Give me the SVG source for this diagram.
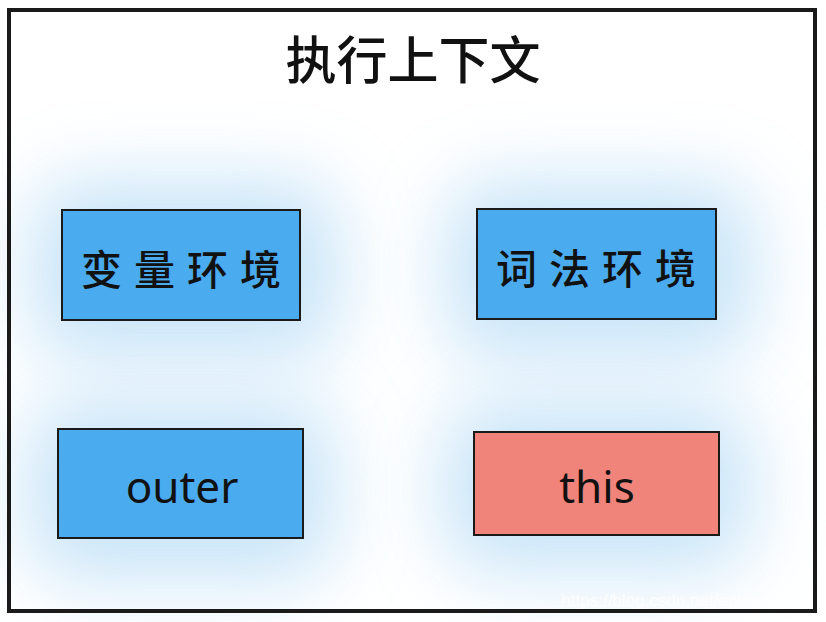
<svg xmlns="http://www.w3.org/2000/svg" width="826" height="622" viewBox="0 0 826 622">
<defs>
<filter id="blur" x="-60%" y="-60%" width="220%" height="220%"><feGaussianBlur stdDeviation="36"/></filter>
<style>
.box{stroke:#1a1a1a;stroke-width:2}
.blue{fill:#4aabef}
.red{fill:#f0847a}
.lbl{font-family:"Noto Sans CJK SC","Noto Sans",sans-serif;font-size:41px;font-weight:500;fill:#111;text-anchor:middle;dominant-baseline:central}
.en{font-family:"Noto Sans","Open Sans",sans-serif;font-size:44px;fill:#111;text-anchor:middle;dominant-baseline:central}
.glow{fill:#bfe0f7;filter:url(#blur)}
</style>
</defs>
<rect x="0" y="0" width="826" height="622" fill="#ffffff"/>
<g id="glows">
<rect class="glow" x="30" y="180" width="310" height="180" rx="50" opacity="0.85"/>
<rect class="glow" x="445" y="180" width="310" height="180" rx="50" opacity="0.85"/>
<rect class="glow" x="26" y="400" width="310" height="180" rx="50" opacity="0.85"/>
<rect class="glow" x="442" y="402" width="310" height="170" rx="50" opacity="0.85"/>
</g>
<g id="frame">
<rect x="9" y="10" width="806" height="601" fill="none" stroke="#1a1a1a" stroke-width="4"/>
</g>
<g id="title">
<text x="413" y="57" font-family="'Noto Sans CJK SC',sans-serif" font-size="51" font-weight="500" fill="#111" text-anchor="middle" dominant-baseline="central">执行上下文</text>
</g>
<g id="var-env">
<rect class="box blue" x="62" y="210" width="238" height="110"/>
<text class="lbl" x="187" y="267" letter-spacing="12">变量环境</text>
</g>
<g id="lex-env">
<rect class="box blue" x="477" y="209" width="239" height="110"/>
<text class="lbl" x="602" y="266" letter-spacing="12">词法环境</text>
</g>
<g id="outer">
<rect class="box blue" x="58" y="429" width="245" height="109"/>
<text class="en" x="182" y="486">outer</text>
</g>
<g id="this">
<rect class="box red" x="474" y="432" width="245" height="103"/>
<text class="en" x="597" y="486">this</text>
</g>
<g id="connectors"></g>
<text x="808" y="606" font-family="'Liberation Sans',sans-serif" font-size="17" fill="#ffffff" fill-opacity="0.85" text-anchor="end">https://blog.csdn.net/ephemeral0</text>
</svg>
